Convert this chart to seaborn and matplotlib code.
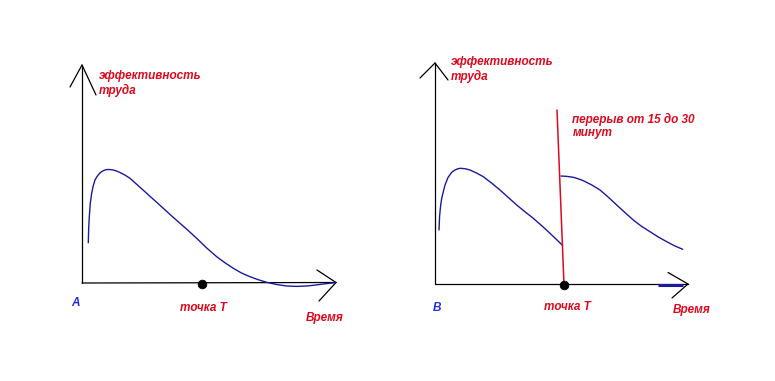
import matplotlib
matplotlib.use("Agg")
import matplotlib.pyplot as plt
import seaborn as sns
import pandas as pd

# Curves (pixel units: x = time, y = screen row)
curve_a_x = [88.3, 88.7, 89.3, 90.3, 91.7, 93.2, 95, 97, 99, 101, 103.3, 105.5, 108, 110.5, 113.3, 116.5, 120, 125, 130,
             138, 146.7, 155, 163.3, 171.5, 180, 188.5, 196.7, 206.5, 216.7, 225, 233.3, 241.5, 250, 258.5, 266.7,
             276.5, 286.7, 296.5, 306.7, 315, 323.3, 335]
curve_a_y = [242.7, 228.0, 216.7, 203.0, 193, 186.0, 180, 176.6, 174, 172.1, 170.7, 169.8, 169.5, 169.6, 170, 171.0,
             172.5, 175.1, 178.3, 185.5, 193.3, 200.8, 208.3, 215.8, 223.3, 230.8, 238.3, 247.8, 256.7, 262.8, 268.3,
             273.0, 276.7, 279.8, 282.3, 284.5, 286, 286.4, 286, 285.1, 284, 282.7]

curve_b1_x = [439, 439.6, 440.7, 441.7, 443, 445, 448, 451.7, 455, 457.5, 460, 465, 470, 476.5, 483.3, 491.5, 500, 508.3,
              516.7, 525, 533.3, 541.5, 550, 556.5, 562.7]
curve_b1_y = [230, 216, 205, 198.5, 193, 185, 177.5, 172.3, 170, 168.9, 168.3, 168.7, 170, 173.0, 176.7, 183.0, 190,
              197.5, 205, 211.8, 218.3, 225.5, 233.3, 239.5, 245.5]

curve_b2_x = [561, 567, 573.3, 578, 583.3, 591.5, 600, 608.3, 616.7, 625, 633.3, 641.5, 650, 658.3, 666.7, 674.5, 682.7]
curve_b2_y = [176, 176.4, 177.3, 178.7, 180.7, 184.8, 190, 197.2, 205, 212.6, 220, 226.3, 231.7, 237.0, 241.7, 245.8,
              249.3]

break_x = [557, 564]
break_y = [110, 285]

point_t_x = [202, 564]
point_t_y = [284, 285]

y_label = ["эффективность", "труда"]
break_label = ["перерыв от 15 до 30", "минут"]
point_label = "точка Т"
x_label = "Время"
panel_labels = ["A", "В"]

sns.set_theme(style="white")
plt.rcParams["font.family"] = ["Liberation Sans", "DejaVu Sans"]

W, H = 775, 381
fig = plt.figure(figsize=(W / 100, H / 100), dpi=100)
ax = fig.add_axes([0, 0, 1, 1])
ax.set_xlim(0, W)
ax.set_ylim(H, 0)
ax.axis("off")

BLUE = "#1a1a9c"
RED = "#dc0a1e"
LBLUE = "#2030d8"
lw_axis = 0.9


def arrow_axes(ox, oy, ytip, ybarbs, xtip, xbarbs):
    ax.plot([ox, ox], [oy, ytip], color="black", lw=lw_axis)
    ax.plot([ox, xtip[0]], [oy, xtip[1]], color="black", lw=lw_axis)
    for bx, by in ybarbs:
        ax.plot([ox, bx], [ytip, by], color="black", lw=lw_axis)
    for bx, by in xbarbs:
        ax.plot([xtip[0], bx], [xtip[1], by], color="black", lw=lw_axis)


arrow_axes(82, 283, 65, [(70, 87), (96, 95)], (336, 282.5), [(317, 270), (319, 301)])
arrow_axes(435, 284, 63, [(420, 78), (448, 80)], (688, 284), [(668, 272.5), (672, 298)])

sns.lineplot(x=curve_a_x, y=curve_a_y, sort=False, estimator=None, ax=ax, color=BLUE, lw=1.0)
sns.lineplot(x=curve_b1_x, y=curve_b1_y, sort=False, estimator=None, ax=ax, color=BLUE, lw=1.0)
sns.lineplot(x=curve_b2_x, y=curve_b2_y, sort=False, estimator=None, ax=ax, color=BLUE, lw=1.0)
# small stray blue stroke on the B time axis
ax.plot([658, 683], [285, 285], color=BLUE, lw=2.2, solid_capstyle="butt")

sns.lineplot(x=break_x, y=break_y, sort=False, estimator=None, ax=ax, color=RED, lw=1.1)

sns.scatterplot(x=point_t_x, y=point_t_y, ax=ax, color="black", s=40, edgecolor="black", zorder=5)

fs = 8.5
tkw = dict(color=RED, fontsize=fs, fontweight="bold", fontstyle="italic", va="center", ha="left")
ax.text(99, 76, y_label[0], **tkw)
ax.text(99, 90, y_label[1], **tkw)
ax.text(451, 62, y_label[0], **tkw)
ax.text(451, 76, y_label[1], **tkw)
ax.text(572.5, 119, break_label[0], **tkw)
ax.text(572.5, 133, break_label[1], **tkw)
ax.text(180, 308, point_label, **tkw)
ax.text(544, 307, point_label, **tkw)
ax.text(306, 318, x_label, **tkw)
ax.text(673, 310, x_label, **tkw)

pkw = dict(color=LBLUE, fontsize=fs, fontweight="bold", fontstyle="italic", va="center", ha="left")
ax.text(71.5, 303, panel_labels[0], **pkw)
ax.text(433, 308, panel_labels[1], **pkw)

fig.savefig("out.png", dpi=100, facecolor="white")
